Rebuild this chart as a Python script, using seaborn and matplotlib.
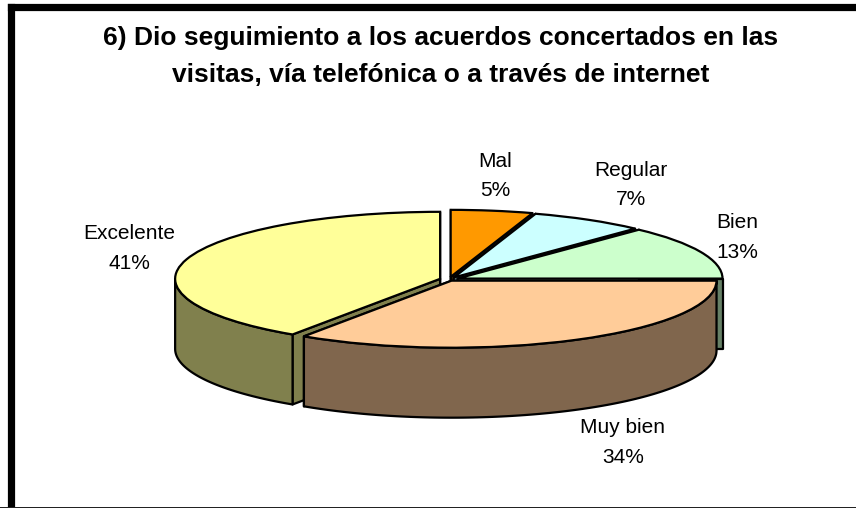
import numpy as np
import matplotlib
matplotlib.use("Agg")
import matplotlib.pyplot as plt
from matplotlib.patches import Rectangle
import seaborn as sns

categories = ["Mal", "Regular", "Bien", "Muy bien", "Excelente"]
values = [5.0, 7.0, 13.0, 34.4, 40.6]
explode = [0.04, 0.035, 0.035, 0.02, 0.035]
top_colors = ["#FF9900", "#CCFFFF", "#CCFFCC", "#FFCC99", "#FFFF99"]
title_lines = ["6) Dio seguimiento a los acuerdos concertados en las",
               "visitas, vía telefónica o a través de internet"]
label_xy = [(495, 176), (631, 185), (737, 237.5), (623, 442.5), (129, 248.5)]

W, H = 856, 508
CX, CY, RX, RY, DEPTH = 449, 279.5, 265, 67, 70

sns.set_theme(style="white")
plt.rcParams["font.family"] = ["Liberation Sans", "DejaVu Sans"]
palette = sns.color_palette(top_colors)
dark = [tuple(c * 0.5 for c in col) for col in palette]

fig = plt.figure(figsize=(W / 100, H / 100), dpi=100, facecolor="white")
ax = fig.add_axes([0, 0, 1, 1])

wedges, _ = ax.pie(values, colors=palette, explode=explode, startangle=90,
                   counterclock=False, radius=1, frame=False,
                   wedgeprops=dict(edgecolor="black", linewidth=1.6))
ax.set_aspect("auto")
ax.set_xlim((0 - CX) / RX, (W - CX) / RX)
ax.set_ylim((CY - H) / RY, CY / RY)
ax.axis("off")

depth = DEPTH / RY
edge = dict(edgecolor="black", linewidth=1.6, joinstyle="round")
order = [0, 1, 2, 4, 3]
for z, i in enumerate(order):
    w = wedges[i]
    cx, cy = w.center
    base = 10 + z * 4
    w.set_zorder(base + 3)
    # cut faces
    for t in (w.theta1, w.theta2):
        a = np.radians(t)
        ex, ey = cx + w.r * np.cos(a), cy + w.r * np.sin(a)
        ax.fill([cx, ex, ex, cx], [cy, ey, ey - depth, cy - depth],
                facecolor=dark[i], zorder=base + 1, **edge)
    # outer front wall (lower half of the ellipse only)
    t1, t2 = w.theta1, w.theta2
    lo, hi = max(t1, -180), min(t2, 0)
    if hi > lo:
        th = np.radians(np.linspace(lo, hi, 120))
        xs = cx + w.r * np.cos(th)
        ys = cy + w.r * np.sin(th)
        ax.fill(np.r_[xs, xs[::-1]], np.r_[ys, ys[::-1] - depth],
                facecolor=dark[i], zorder=base + 2, **edge)

to_x = lambda p: p / W
to_y = lambda p: 1 - p / H
for name, v, (px, py) in zip(categories, values, label_xy):
    fig.text(to_x(px), to_y(py), f"{name}\n{round(v)}%", ha="center", va="center",
             fontsize=15, color="black", linespacing=1.72, zorder=50)

for line, py in zip(title_lines, (38, 75)):
    fig.text(to_x(441), to_y(py), line, ha="center", va="center",
             fontsize=19, fontweight="bold", color="black", zorder=50)

frame = fig.add_axes([10.5 / W, -1.5 / H, (W + 10) / W, (H + 1.5 - 6.5) / H], zorder=60)
frame.patch.set_alpha(0)
frame.set_xticks([]); frame.set_yticks([])
for s in frame.spines.values():
    s.set_linewidth(5.2)
    s.set_color("black")
frame.spines["right"].set_visible(False)
frame.spines["bottom"].set_visible(False)
fig.add_artist(Rectangle((0, 0), 1, 1.2 / H, transform=fig.transFigure,
                         facecolor="#222222", edgecolor="none", zorder=70))

fig.savefig("out.png", dpi=100)
